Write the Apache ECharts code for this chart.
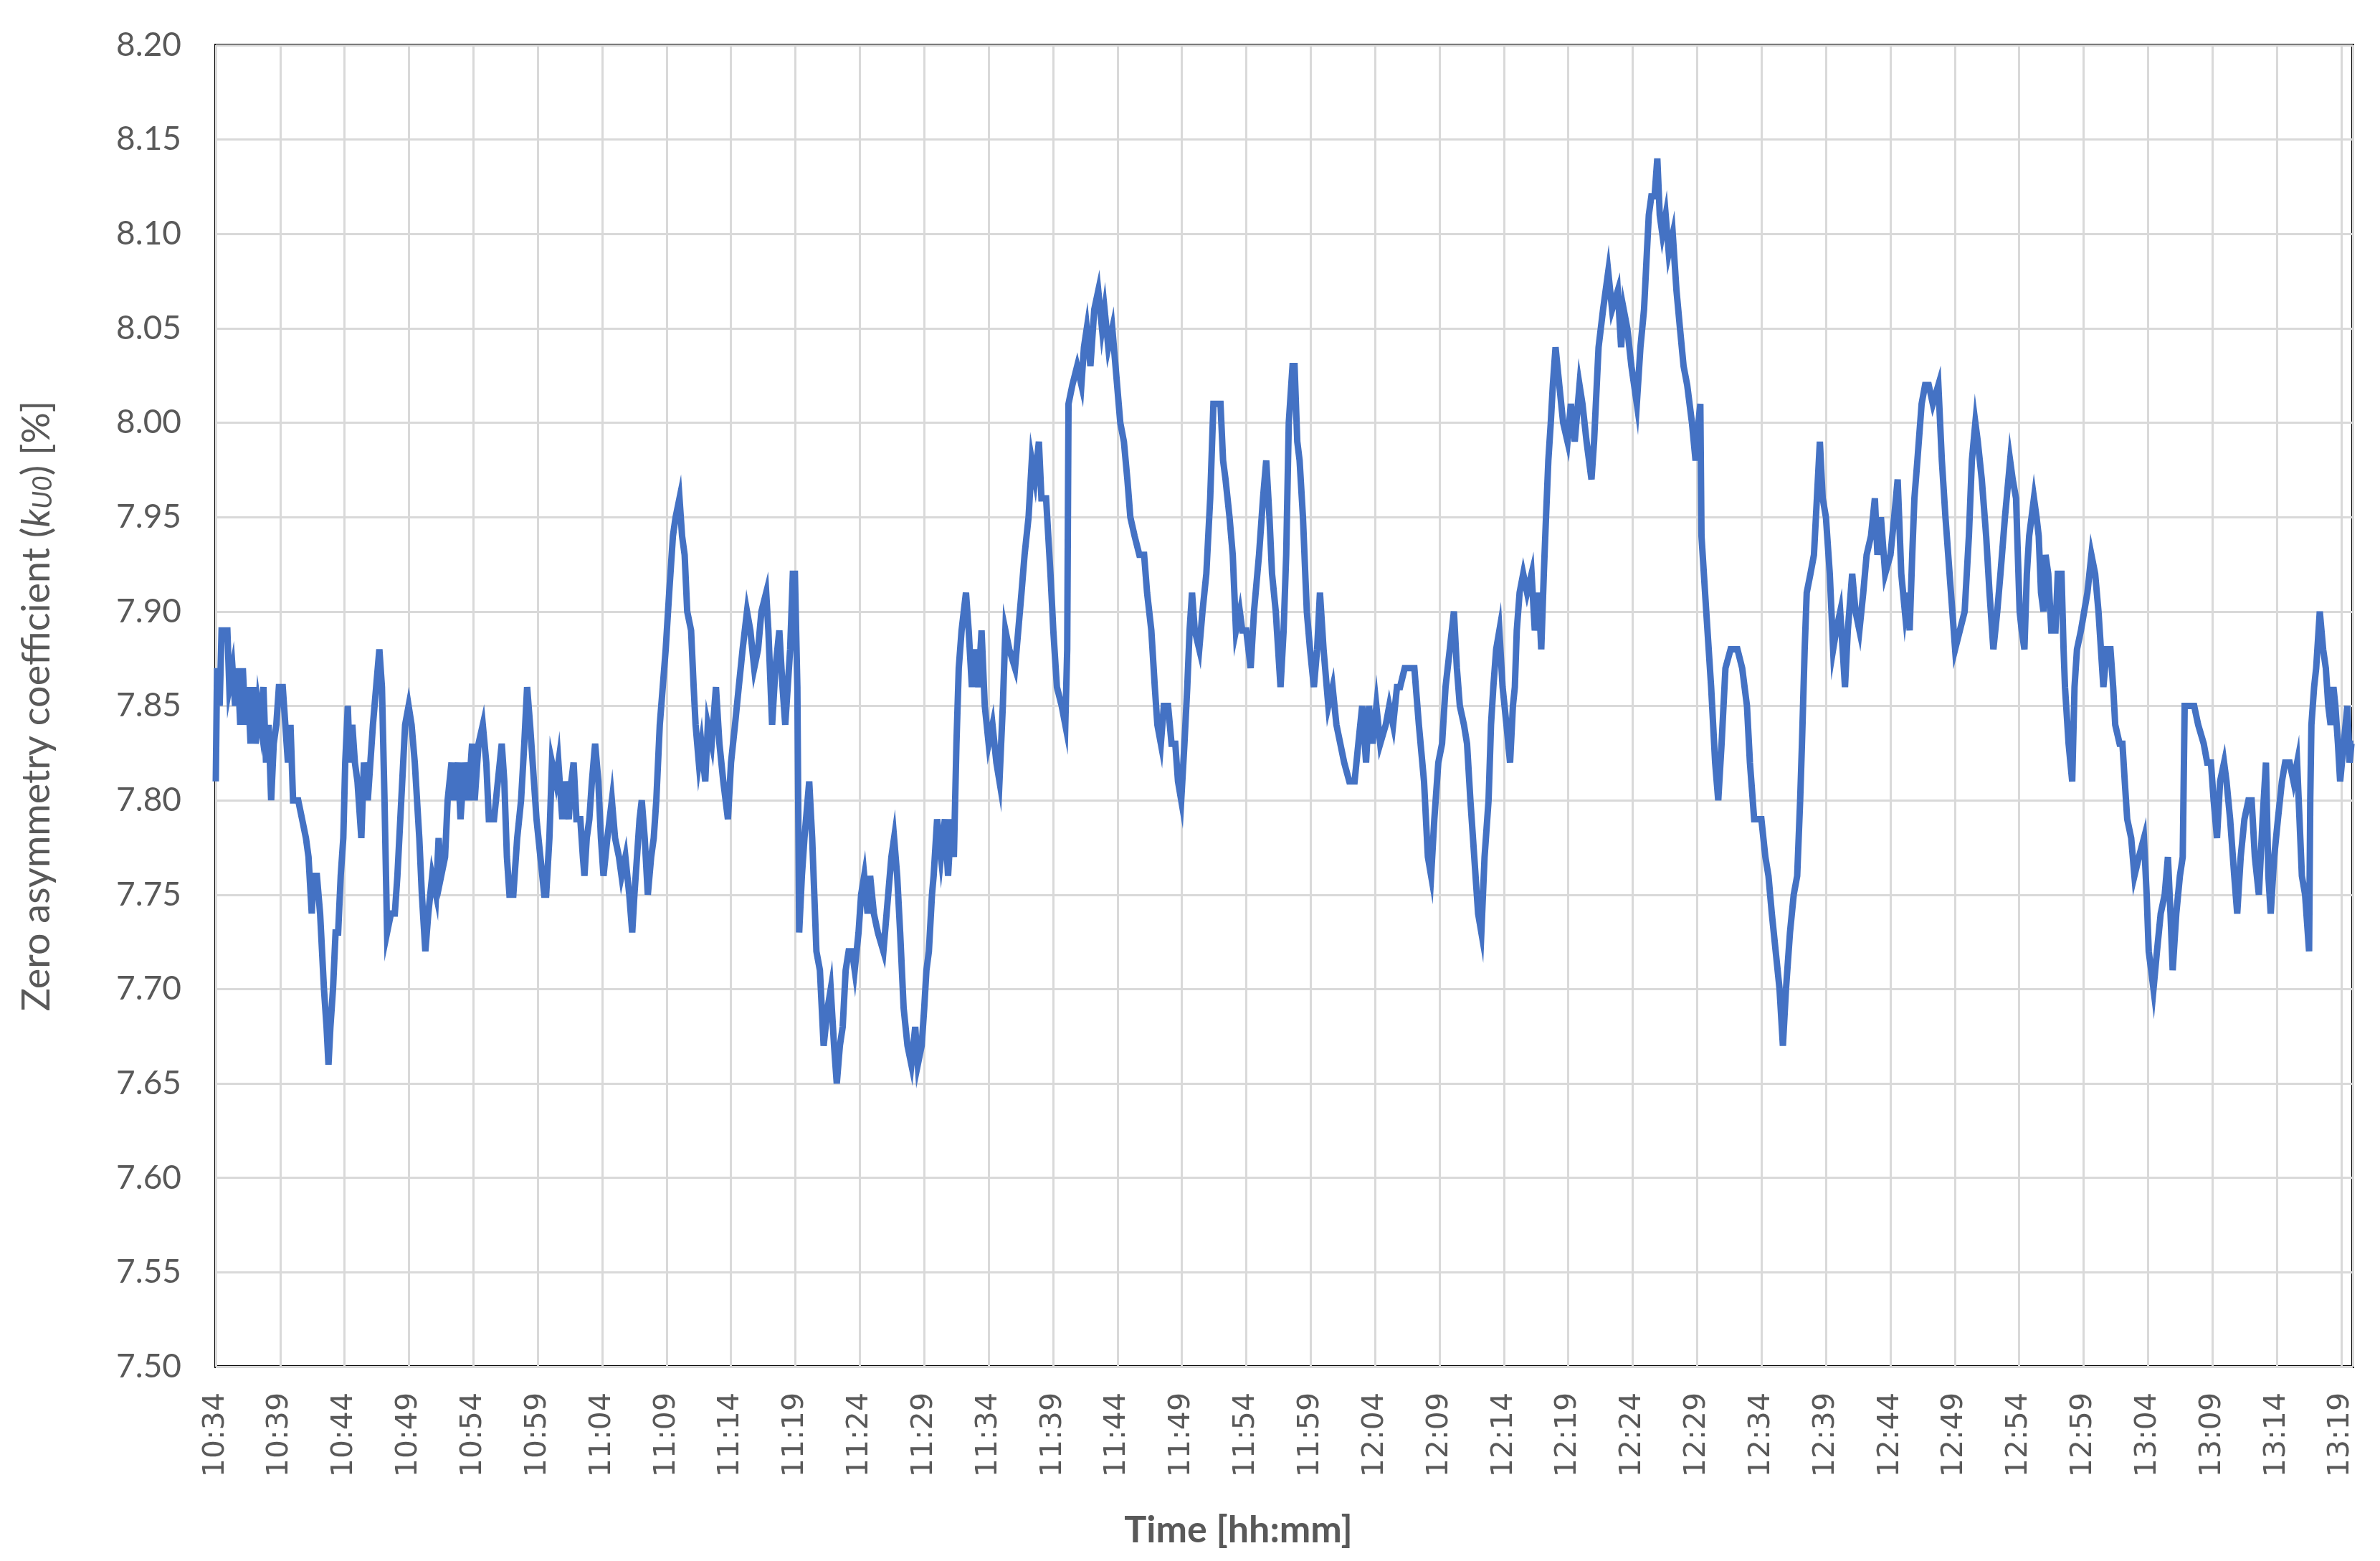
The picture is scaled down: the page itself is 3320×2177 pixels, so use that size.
<!DOCTYPE html>
<html>
<head>
<meta charset="utf-8">
<script src="https://cdn.jsdelivr.net/npm/echarts@6/dist/echarts.min.js"></script>
<style>
html,body{margin:0;padding:0;background:#fff;}
#chart{width:3320px;height:2177px;}
</style>
</head>
<body>
<div id="chart"></div>
<script>
// Minutes elapsed since 10:34 and the measured coefficient value (%)
const startMinutes = 10 * 60 + 34;
const minutes = [
0.0,0.1,0.3,0.45,0.9,1.05,1.3,1.5,1.7,1.9,2.1,2.3,2.5,2.7,2.9,3.1,3.3,3.5,3.7,3.9,4.1,4.3,4.5,4.7,4.9,5.2,5.4,5.6,5.8,6.0,6.4,6.7,7.0,7.2,7.45,7.6,7.85,8.1,8.4,8.6,8.75,8.9,9.1,9.3,9.5,9.7,9.9,10.05,10.25,10.4,10.6,10.8,11.0,11.3,11.5,11.8,12.0,12.2,12.45,12.7,12.9,13.1,13.3,13.6,13.9,14.1,14.4,14.7,14.97,15.2,15.45,15.8,16.0,16.27,16.5,16.8,17.1,17.3,17.5,17.8,18.0,18.3,18.5,18.8,19.0,19.3,19.6,19.9,20.1,20.4,20.73,21.0,21.2,21.6,21.9,22.2,22.4,22.6,22.8,23.1,23.4,23.7,23.95,24.17,24.4,24.6,24.9,25.2,25.5,25.65,25.9,26.1,26.4,26.6,26.9,27.1,27.4,
27.6,27.78,28.0,28.3,28.5,28.62,28.8,29.0,29.2,29.45,29.7,29.9,30.1,30.4,30.75,31.0,31.3,31.5,31.8,32.1,32.33,32.5,32.7,32.9,33.07,33.3,33.54,33.8,34.0,34.2,34.47,34.7,34.93,35.2,35.49,35.7,36.0,36.2,36.4,36.6,36.9,37.1,37.25,37.5,37.7,38.0,38.2,38.5,38.83,39.1,39.4,39.76,40.0,40.31,40.6,40.9,41.24,41.5,41.8,42.1,42.36,42.73,42.9,43.19,43.45,43.75,44.0,44.21,44.4,44.59,44.8,44.96,45.15,45.29,45.5,45.7,46.07,46.3,46.63,46.9,47.19,47.5,47.74,48.0,48.21,48.45,48.67,48.9,49.13,49.4,49.6,49.9,50.1,50.34,50.6,50.8,51.09,51.4,51.83,52.2,52.45,52.66,52.9,53.13,53.4,53.7,54.0,54.3,54.5,54.8,55.0,55.17,
55.36,55.6,55.73,56.0,56.3,56.6,56.85,57.1,57.3,57.5,57.68,57.9,58.24,58.45,58.7,58.9,59.2,59.45,59.7,60.0,60.3,60.6,60.84,61.1,61.3,61.6,62.05,62.3,62.55,62.79,63.1,63.35,63.6,63.9,64.1,64.46,64.8,65.02,65.3,65.67,65.95,66.1,66.2,66.5,66.87,67.2,67.4,67.62,67.9,68.2,68.51,68.8,69.0,69.29,69.6,69.85,70.22,70.5,70.77,71.0,71.33,71.7,72.07,72.3,72.63,72.9,73.1,73.37,73.6,73.93,74.2,74.49,74.7,74.95,75.2,75.42,75.6,75.79,76.0,76.35,76.6,76.9,77.2,77.45,77.74,78.0,78.2,78.39,78.7,78.95,79.2,79.5,79.69,80.0,80.34,80.6,80.99,81.3,81.55,81.8,82.0,82.29,82.66,82.9,83.1,83.3,83.59,83.75,83.96,84.14,
84.4,84.7,84.95,85.25,85.5,85.72,86.0,86.37,86.7,87.0,87.3,87.6,88.0,88.41,88.7,89.0,89.3,89.53,89.8,90.1,90.4,90.83,91.1,91.4,91.7,91.94,92.3,92.7,93.05,93.4,93.8,94.1,94.35,94.6,94.91,95.2,95.47,95.8,96.12,96.35,96.58,96.9,97.14,97.4,97.7,98.0,98.25,98.5,98.81,99.0,99.18,99.4,99.65,99.9,100.2,100.48,100.7,100.85,101.0,101.22,101.5,101.8,102.15,102.4,102.7,102.9,103.1,103.27,103.45,103.64,103.8,104.01,104.3,104.6,104.94,105.2,105.5,105.87,106.1,106.42,106.8,107.0,107.35,107.7,108.1,108.4,108.84,109.1,109.3,109.58,109.9,110.32,110.6,110.88,111.1,111.25,111.45,
111.7,111.91,112.1,112.3,112.56,112.8,113.11,113.4,113.67,113.95,114.23,114.6,114.88,115.1,115.25,115.34,115.71,116.09,116.4,116.64,116.9,117.2,117.6,118.13,118.5,118.87,119.1,119.43,119.99,120.3,120.54,120.8,121.1,121.4,121.66,121.9,122.21,122.5,122.77,123.0,123.14,123.35,123.51,123.8,124.07,124.3,124.53,124.75,125.0,125.3,125.56,125.8,126.11,126.3,126.48,126.7,127.04,127.3,127.6,127.9,128.16,128.5,128.8,129.0,129.27,129.6,130.01,130.3,130.57,130.85,131.13,131.3,131.5,131.7,131.87,132.1,132.43,132.7,132.98,133.3,133.73,134.0,134.28,134.6,135.03,135.4,135.77,136.1,136.33,136.6,136.79,137.1,137.44,137.7,138.0,138.3,138.55,138.9,139.3,
139.5,139.76,140.04,140.2,140.41,140.6,140.78,141.15,141.35,141.52,141.7,141.89,142.05,142.26,142.5,142.82,143.0,143.29,143.45,143.56,143.84,144.12,144.3,144.49,144.8,145.05,145.3,145.61,145.9,146.16,146.35,146.54,146.8,147.09,147.3,147.46,147.8,148.02,148.2,148.39,148.7,148.95,149.3,149.69,149.9,150.06,150.25,150.43,150.7,150.99,151.3,151.55,151.75,151.92,152.2,152.48,152.7,152.85,153.2,153.59,153.9,154.33,154.6,154.89,155.1,155.36,155.6,155.91,156.1,156.38,156.7,156.93,157.2,157.49,157.8,158.05,158.3,158.61,158.9,159.16,159.35,159.53,159.8,160.09,160.4,160.65,161.0,161.3,161.58,161.95,162.2,162.51,162.6,162.69,162.9,163.06,163.34,163.6,163.81,164.0,164.18,164.4,164.55,164.75,164.92,165.2,165.48,165.65,165.8,165.95
];
const coefficient = [
7.81,7.87,7.85,7.89,7.89,7.86,7.87,7.85,7.87,7.84,7.87,7.84,7.86,7.83,7.86,7.83,7.85,7.84,7.86,7.82,7.84,7.80,7.83,7.84,7.86,7.86,7.84,7.82,7.84,7.80,7.80,7.79,7.78,7.77,7.74,7.76,7.76,7.74,7.70,7.68,7.66,7.68,7.70,7.73,7.73,7.76,7.78,7.82,7.85,7.82,7.84,7.82,7.81,7.78,7.82,7.80,7.82,7.84,7.86,7.88,7.86,7.80,7.73,7.74,7.74,7.76,7.80,7.84,7.85,7.84,7.82,7.78,7.75,7.72,7.74,7.76,7.75,7.78,7.76,7.77,7.80,7.82,7.80,7.82,7.79,7.82,7.80,7.83,7.80,7.83,7.84,7.82,7.79,7.79,7.81,7.83,7.81,7.77,7.75,7.75,7.78,7.80,7.83,7.86,7.84,7.82,7.79,7.77,7.75,7.75,7.78,7.82,7.81,7.82,7.79,7.81,7.79,
7.81,7.82,7.79,7.79,7.77,7.76,7.78,7.79,7.81,7.83,7.81,7.78,7.76,7.78,7.80,7.78,7.77,7.76,7.77,7.75,7.73,7.75,7.77,7.79,7.80,7.78,7.75,7.77,7.78,7.80,7.84,7.86,7.88,7.91,7.94,7.95,7.96,7.94,7.93,7.90,7.89,7.86,7.84,7.82,7.83,7.81,7.84,7.83,7.86,7.83,7.81,7.79,7.82,7.84,7.86,7.88,7.90,7.89,7.87,7.88,7.90,7.91,7.89,7.84,7.87,7.89,7.86,7.84,7.86,7.88,7.92,7.92,7.86,7.73,7.76,7.78,7.81,7.78,7.72,7.71,7.67,7.69,7.70,7.67,7.65,7.67,7.68,7.71,7.72,7.72,7.71,7.73,7.75,7.76,7.74,7.76,7.74,7.73,7.72,7.75,7.77,7.78,7.76,7.73,7.69,7.67,7.66,7.68,7.66,7.67,7.69,7.71,
7.72,7.75,7.76,7.79,7.77,7.79,7.76,7.79,7.77,7.83,7.87,7.89,7.91,7.89,7.86,7.88,7.86,7.89,7.85,7.83,7.84,7.82,7.81,7.85,7.89,7.88,7.87,7.89,7.91,7.93,7.95,7.98,7.97,7.99,7.96,7.96,7.92,7.89,7.86,7.85,7.84,7.88,8.01,8.02,8.03,8.02,8.04,8.05,8.03,8.06,8.07,8.05,8.06,8.04,8.05,8.03,8.00,7.99,7.97,7.95,7.94,7.93,7.93,7.91,7.89,7.86,7.84,7.83,7.85,7.85,7.83,7.83,7.81,7.80,7.83,7.86,7.89,7.91,7.89,7.88,7.90,7.92,7.96,8.01,8.01,8.01,7.98,7.97,7.95,7.93,7.89,7.90,7.89,7.89,7.87,7.90,7.93,7.96,7.98,7.95,7.92,7.90,7.86,7.89,7.93,8.00,8.03,8.03,7.99,7.98,
7.95,7.90,7.88,7.86,7.88,7.91,7.88,7.85,7.86,7.84,7.83,7.82,7.81,7.81,7.83,7.85,7.82,7.85,7.83,7.85,7.83,7.84,7.85,7.84,7.86,7.86,7.87,7.87,7.87,7.84,7.81,7.77,7.76,7.79,7.82,7.83,7.86,7.88,7.90,7.87,7.85,7.84,7.83,7.80,7.77,7.74,7.73,7.77,7.80,7.84,7.86,7.88,7.89,7.86,7.84,7.82,7.85,7.86,7.89,7.91,7.92,7.91,7.92,7.89,7.91,7.88,7.92,7.95,7.98,8.00,8.02,8.04,8.02,8.00,7.99,8.01,7.99,8.02,8.01,7.99,7.97,7.99,8.04,8.06,8.08,8.06,8.07,8.04,8.06,8.05,8.03,8.01,8.04,8.06,8.09,8.11,8.12,
8.12,8.14,8.11,8.10,8.11,8.09,8.10,8.07,8.05,8.03,8.02,8.00,7.98,8.00,8.01,7.94,7.90,7.86,7.82,7.80,7.83,7.87,7.88,7.88,7.87,7.85,7.82,7.79,7.79,7.77,7.76,7.74,7.72,7.70,7.67,7.70,7.73,7.75,7.76,7.80,7.83,7.88,7.91,7.92,7.93,7.96,7.99,7.96,7.95,7.92,7.88,7.89,7.90,7.88,7.86,7.89,7.92,7.90,7.89,7.91,7.93,7.94,7.96,7.93,7.95,7.92,7.93,7.95,7.97,7.92,7.90,7.91,7.89,7.93,7.96,7.98,8.01,8.02,8.02,8.01,8.02,7.98,7.95,7.92,7.88,7.89,7.90,7.94,7.98,8.00,7.99,7.97,7.94,7.91,7.88,7.90,7.92,7.95,7.98,
7.97,7.96,7.90,7.89,7.88,7.92,7.94,7.96,7.95,7.94,7.91,7.90,7.93,7.92,7.89,7.89,7.92,7.92,7.88,7.86,7.83,7.81,7.86,7.88,7.89,7.90,7.91,7.93,7.92,7.90,7.88,7.86,7.88,7.88,7.86,7.84,7.83,7.83,7.81,7.79,7.78,7.76,7.77,7.78,7.75,7.72,7.71,7.70,7.72,7.74,7.75,7.77,7.74,7.71,7.74,7.76,7.77,7.85,7.85,7.85,7.84,7.83,7.82,7.82,7.80,7.78,7.81,7.82,7.81,7.79,7.76,7.74,7.77,7.79,7.80,7.80,7.77,7.75,7.79,7.82,7.76,7.74,7.77,7.79,7.81,7.82,7.82,7.81,7.82,7.76,7.75,7.72,7.80,7.84,7.86,7.87,7.90,7.88,7.87,7.85,7.84,7.86,7.85,7.83,7.81,7.83,7.85,7.82,7.83,7.83
];
const yTicks = { min: 7.5, max: 8.2, step: 0.05 };
const xTicks = { min: 0, max: 165.9, step: 5 };

function toClock(m) {
  const total = Math.round(startMinutes + m);
  const h = Math.floor(total / 60);
  const mm = total % 60;
  return h + ':' + (mm < 10 ? '0' : '') + mm;
}

const seriesData = minutes.map((t, i) => [t, coefficient[i]]);

const chart = echarts.init(document.getElementById('chart'), null, { renderer: 'canvas' });
chart.setOption({
  animation: false,
  backgroundColor: '#ffffff',
  grid: {
    left: 301, right: 38, top: 63, bottom: 271,
    show: true, borderColor: '#000000', borderWidth: 4, backgroundColor: 'transparent'
  },
  xAxis: {
    type: 'value',
    min: xTicks.min, max: xTicks.max, interval: xTicks.step,
    name: 'Time [hh:mm]',
    nameLocation: 'middle',
    nameGap: 202,
    nameTextStyle: { fontFamily: 'Lato', fontWeight: 'bold', fontSize: 52, color: '#595959', padding: [0, 128, 0, 0] },
    axisLine: { show: false },
    axisTick: { show: false },
    axisLabel: {
      rotate: 90, margin: 36, fontFamily: 'DejaVu Sans', fontSize: 41, color: '#595959',
      showMaxLabel: false,
      formatter: v => toClock(v)
    },
    splitLine: { show: true, lineStyle: { color: '#d9d9d9', width: 3 } }
  },
  yAxis: {
    type: 'value',
    min: yTicks.min, max: yTicks.max, interval: yTicks.step,
    name: 'Zero asymmetry coefficient ({k|k}{s|U0}) [%]',
    nameLocation: 'middle',
    nameGap: 222,
    nameTextStyle: {
      fontFamily: 'Lato', fontSize: 54, color: '#595959',
      rich: {
        k: { fontFamily: 'Lato', fontSize: 54, fontStyle: 'italic', color: '#595959' },
        s: { fontFamily: 'Lato', fontSize: 37, fontStyle: 'italic', color: '#595959', padding: [18, 0, 0, 0] }
      }
    },
    axisLine: { show: false },
    axisTick: { show: false },
    axisLabel: { margin: 48, fontFamily: 'Lato', fontSize: 46, color: '#595959', formatter: v => v.toFixed(2) },
    splitLine: { show: true, lineStyle: { color: '#d9d9d9', width: 3 } }
  },
  series: [{
    type: 'line',
    data: seriesData,
    showSymbol: false,
    symbol: 'none',
    lineStyle: { color: '#4472C4', width: 9, join: 'miter' },
    itemStyle: { color: '#4472C4' },
    clip: true
  }]
});
</script>
</body>
</html>
